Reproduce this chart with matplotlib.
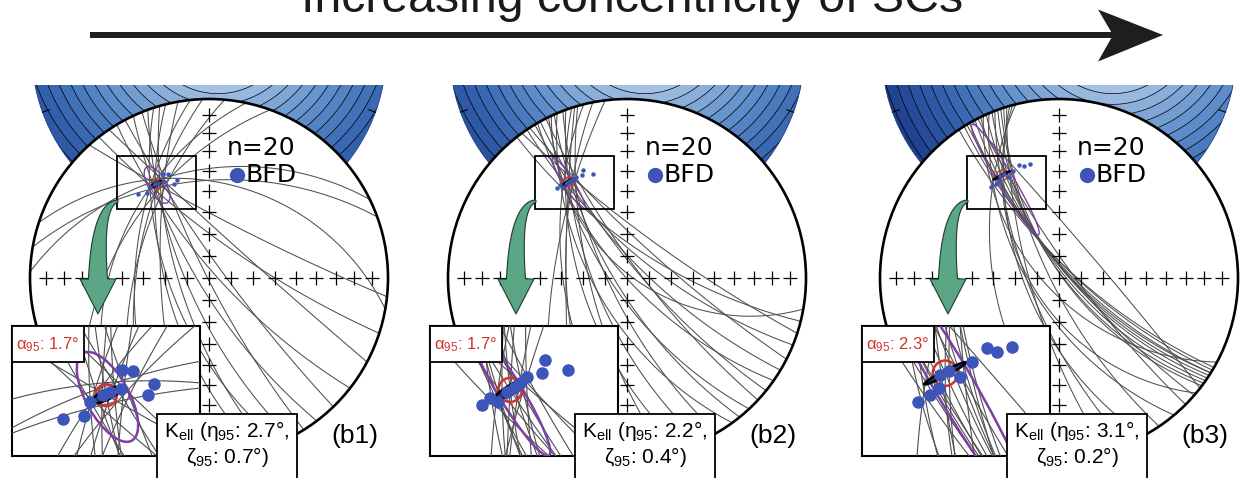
import numpy as np
import matplotlib
matplotlib.use('Agg')
import matplotlib.pyplot as plt
from matplotlib.patches import Circle, Ellipse, Rectangle, Polygon
from matplotlib.colors import LinearSegmentedColormap

plt.rcParams['font.family'] = ['Liberation Sans', 'DejaVu Sans']
plt.rcParams['mathtext.fontset'] = 'custom'
plt.rcParams['mathtext.rm'] = 'Liberation Sans'
plt.rcParams['mathtext.it'] = 'Liberation Sans:italic'

W, H = 1242, 478
R = 179                     # radius of the primitive circle, px
CY = 278                    # row of the net centres, px
centres = [209, 627, 1059]  # column of the net centres, px

title = 'Increasing concentricity of SCs'
labels = ['(b1)', '(b2)', '(b3)']
n_sites = [20, 20, 20]
alpha95 = ['1.7', '1.7', '2.3']
eta95 = ['2.7', '2.2', '3.1']
zeta95 = ['0.7', '0.4', '0.2']

# mean direction of each set, equal-area net coords (unit primitive)
mean_x = [-0.293, -0.326, -0.319]
mean_y = [0.524, 0.536, 0.574]

# remagnetisation circles: azimuth where each enters/leaves the primitive (deg)
# and how far it misses the mean direction (net units)
gc_start = [
    [272, 280, 288, 318, 322, 326, 329, 332, 335, 338, 340, 342, 344, 346, 350, 354, 358, 5, 12, 20],
    [322, 324, 326, 327, 329, 330, 331, 333, 334, 336, 337, 339, 340, 342, 344, 346, 349, 343, 353, 335],
    [326, 328, 330, 332, 334, 336, 338, 340, 342, 329, 333, 337, 341, 344, 339, 343, 346, 335, 331, 345],
]
gc_end = [
    [64, 70, 100, 96, 108, 118, 128, 136, 143, 148, 153, 157, 161, 165, 185, 192, 198, 204, 212, 225],
    [104, 108, 112, 117, 121, 125, 129, 133, 137, 141, 144, 150, 156, 162, 168, 176, 186, 197, 205, 100],
    [120, 121, 122, 122, 123, 124, 125, 126, 127, 131, 135, 140, 146, 152, 158, 165, 172, 118, 128, 130],
]
gc_miss = [
    [0.02, -0.02, 0.03, 0.0, -0.03, 0.04, -0.04, 0.03, -0.02, 0.05, 0.0, -0.04, 0.02, -0.01, 0.04, -0.03, 0.01, 0.05, -0.02, 0.03],
    [-0.05, 0.03, -0.02, 0.04, 0.0, -0.04, 0.02, 0.05, -0.03, 0.01, -0.05, 0.03, 0.0, -0.02, 0.04, -0.03, 0.02, 0.0, 0.03, -0.04],
    [-0.07, -0.05, -0.035, -0.02, 0.0, 0.02, 0.035, 0.05, 0.07, -0.03, 0.03, -0.06, 0.06, 0.01, -0.01, 0.045, -0.045, -0.08, 0.08, 0.0],
]

# best-fit directions (net coords)
bfd_x = [
    [-0.394, -0.344, -0.331, -0.257, -0.231, -0.259, -0.181, -0.194, -0.300, -0.284],
    [-0.393, -0.373, -0.354, -0.287, -0.252, -0.244, -0.190, -0.303, -0.318, -0.334],
    [-0.382, -0.354, -0.333, -0.257, -0.221, -0.198, -0.163, -0.284, -0.310, -0.330],
]
bfd_y = [
    [0.470, 0.476, 0.509, 0.581, 0.580, 0.538, 0.549, 0.524, 0.524, 0.531],
    [0.502, 0.517, 0.509, 0.566, 0.574, 0.604, 0.581, 0.552, 0.540, 0.532],
    [0.509, 0.524, 0.540, 0.600, 0.631, 0.623, 0.635, 0.566, 0.579, 0.570],
]

# confidence regions (net units, degrees)
ell_x = [-0.290, -0.325, -0.300]
ell_y = [0.520, 0.530, 0.550]
ell_len = [0.23, 0.34, 0.72]
ell_wid = [0.10, 0.056, 0.09]
ell_ang = [-60, -58, -59]
kent_len = [0.075, 0.085, 0.11]
kent_wid = [0.022, 0.02, 0.012]
kent_ang = [25, 30, 27]
a95_diam = [0.05, 0.055, 0.058]

# light spot of the density shading above each net
light_x = [0.05, 0.10, 0.30]
light_y = [1.45, 1.45, 1.45]

box_x = (-0.514, -0.073)
box_y = (0.385, 0.682)

GREY = '#4f4f4f'
PURPLE = '#7d3fa6'
RED = '#d2322d'
BLUE = '#3d55b8'
GREEN = '#5ba684'

cmap = LinearSegmentedColormap.from_list(
    'dens', ['#dde8f5', '#a7c3e4', '#6493cc', '#3563b0', '#1d3d8a'])


def arc3(p0, pm, p2, n=300):
    (x1, y1), (x2, y2), (x3, y3) = p0, pm, p2
    d = 2 * (x1 * (y2 - y3) + x2 * (y3 - y1) + x3 * (y1 - y2))
    if abs(d) < 1e-6:
        return np.array([x1, x2, x3]), np.array([y1, y2, y3])
    s1, s2, s3 = x1**2 + y1**2, x2**2 + y2**2, x3**2 + y3**2
    ux = (s1 * (y2 - y3) + s2 * (y3 - y1) + s3 * (y1 - y2)) / d
    uy = (s1 * (x3 - x2) + s2 * (x1 - x3) + s3 * (x2 - x1)) / d
    r = np.hypot(x1 - ux, y1 - uy)
    t0 = np.arctan2(y1 - uy, x1 - ux)
    tm = np.arctan2(y2 - uy, x2 - ux)
    t2 = np.arctan2(y3 - uy, x3 - ux)
    ccw = lambda a, b: (b - a) % (2 * np.pi)
    if ccw(t0, tm) < ccw(t0, t2):
        t = t0 + np.linspace(0, ccw(t0, t2), n)
    else:
        t = t0 - np.linspace(0, ccw(t2, t0), n)
    return ux + r * np.cos(t), uy + r * np.sin(t)


def circles(i):
    out = []
    mx, my = mean_x[i], mean_y[i]
    for a, b, m in zip(gc_start[i], gc_end[i], gc_miss[i]):
        p0 = np.array([np.sin(np.radians(a)), np.cos(np.radians(a))])
        p2 = np.array([np.sin(np.radians(b)), np.cos(np.radians(b))])
        ch = (p2 - p0) / np.hypot(*(p2 - p0))
        nrm = np.array([-ch[1], ch[0]])
        out.append(arc3(p0, (mx + m * nrm[0], my + m * nrm[1]), p2))
    return out


def draw_regions(ax, i, lw):
    ax.add_patch(Ellipse((ell_x[i], ell_y[i]), ell_len[i], ell_wid[i], angle=ell_ang[i],
                         fill=False, ec=PURPLE, lw=lw, zorder=6))
    ax.add_patch(Circle((mean_x[i], mean_y[i]), a95_diam[i] / 2,
                        fill=False, ec=RED, lw=lw, zorder=7))
    ax.add_patch(Ellipse((mean_x[i], mean_y[i]), kent_len[i], kent_wid[i], angle=kent_ang[i],
                         fc='#24357f', ec='black', lw=lw, zorder=8))


fig = plt.figure(figsize=(W / 100, H / 100), dpi=100)
ov = fig.add_axes([0, 0, 1, 1], zorder=20)
ov.set_xlim(0, W)
ov.set_ylim(H, 0)
ov.axis('off')

# title + big arrow
tt = ov.text(632, 12, title, ha='center', va='baseline', fontsize=30,
             family=['Liberation Sans Narrow', 'Liberation Sans'], color='#1a1a1a')
fig.canvas.draw()
wpx = tt.get_window_extent(fig.canvas.get_renderer()).width
tt.set_fontsize(30 * 662 / wpx)
ov.add_patch(Rectangle((90, 31.8), 1024, 6.6, fc='#1e1e1e', ec='none'))
ov.add_patch(Polygon([(1098, 9.5), (1163, 35), (1098, 61.5), (1113, 35)],
                     closed=True, fc='#1e1e1e', ec='none'))

y_top = (CY - 85) / R
y_bot = -(H - CY) / R
xr = 1.17
levels = np.arange(0, 1.8, 0.06)

for i, cx in enumerate(centres):
    ax = fig.add_axes([(cx - xr * R) / W, 0, 2 * xr * R / W, (H - 85) / H])
    ax.set_xlim(-xr, xr)
    ax.set_ylim(y_bot, y_top)
    ax.axis('off')

    # density shading above the net
    disc = Circle((0, 1.265), 0.99, transform=ax.transData)
    gx, gy = np.meshgrid(np.linspace(-1.05, 1.05, 300), np.linspace(0.2, 1.1, 160))
    field = np.hypot(gx - light_x[i], gy - light_y[i])
    cf = ax.contourf(gx, gy, field, levels=levels, cmap=cmap,
                     vmin=0.05, vmax=1.35, zorder=0)
    cl = ax.contour(gx, gy, field, levels=levels, colors='black',
                    linewidths=0.5, zorder=0.5)
    cf.set_clip_path(disc)
    cl.set_clip_path(disc)
    ax.add_patch(Circle((0, 1.265), 0.99, fill=False, ec='#1d3d8a', lw=0.6, zorder=0.6))
    for az in (110, 250):
        s, c = np.sin(np.radians(az)), np.cos(np.radians(az))
        ax.plot([0.99 * s, 0.95 * s], [1.265 + 0.99 * c, 1.265 + 0.95 * c],
                color='black', lw=0.8, zorder=0.7)

    # primitive
    ax.add_patch(Circle((0, 0), 1, fc='white', ec='none', zorder=1))
    clip = Circle((0, 0), 1, transform=ax.transData)
    arcs = circles(i)
    for gx_, gy_ in arcs:
        ln, = ax.plot(gx_, gy_, color=GREY, lw=0.75, zorder=3)
        ln.set_clip_path(clip)
    ax.add_patch(Circle((0, 0), 1, fill=False, ec='black', lw=1.9, zorder=4))

    rr = np.sqrt(2) * np.sin(np.radians(90 - np.arange(10, 90, 10)) / 2)
    tx = np.concatenate([rr, -rr, np.zeros(len(rr) * 2 + 1)])
    ty = np.concatenate([np.zeros(len(rr) * 2), rr, -rr, [0]])
    ax.plot(tx, ty, '+', color='black', ms=10, mew=0.9, zorder=4)

    draw_regions(ax, i, 1.0)
    ax.plot(bfd_x[i], bfd_y[i], 'o', color=BLUE, ms=2.2, zorder=9)
    ax.add_patch(Rectangle((box_x[0], box_y[0]), box_x[1] - box_x[0], box_y[1] - box_y[0],
                           fill=False, ec='black', lw=1.3, zorder=10))

    ax.text(0.10, 0.687, 'n=%d' % n_sites[i], fontsize=18, family='DejaVu Sans',
            ha='left', va='baseline', zorder=10)
    ax.plot([0.158], [0.577], 'o', color=BLUE, ms=10, zorder=10)
    ax.text(0.205, 0.536, 'BFD', fontsize=18, family='DejaVu Sans',
            ha='left', va='baseline', zorder=10)

    # enlarged view
    ins = fig.add_axes([(cx - 197) / W, 1 - (326 + 130) / H, 188 / W, 130 / H], zorder=10)
    ins.set_xlim(*box_x)
    ins.set_ylim(*box_y)
    ins.set_xticks([])
    ins.set_yticks([])
    for sp in ins.spines.values():
        sp.set_linewidth(1.5)
    for gx_, gy_ in arcs:
        ins.plot(gx_, gy_, color=GREY, lw=0.8, zorder=3)
    draw_regions(ins, i, 1.8)
    ins.plot(bfd_x[i], bfd_y[i], 'o', color=BLUE, ms=8, zorder=9)

    # overlay boxes, labels and green arrow
    ov.add_patch(Rectangle((cx - 197, 326), 72, 36, fc='white', ec='black', lw=1.3))
    ov.text(cx - 161, 345, 'α$_{95}$: %s°' % alpha95[i], color=RED, fontsize=12,
            ha='center', va='center')
    ov.add_patch(Rectangle((cx - 52, 414), 140, 70, fc='white', ec='black', lw=1.3))
    ov.text(cx + 18, 437, 'K$_{\\rm ell}$ (η$_{95}$: %s°,' % eta95[i], fontsize=15,
            ha='center', va='baseline')
    ov.text(cx + 18, 463, 'ζ$_{95}$: %s°)' % zeta95[i], fontsize=15,
            ha='center', va='baseline')
    ov.text(cx + 122, 443, labels[i], fontsize=19, ha='left', va='baseline')

    t = np.linspace(0, 1, 40)[:, None]
    p0 = np.array([cx - 91, 201.0])
    pc = np.array([cx - 112, 205.0])
    p1 = np.array([cx - 111, 279.0])
    pts = (1 - t) ** 2 * p0 + 2 * t * (1 - t) * pc + t ** 2 * p1
    der = 2 * (1 - t) * (pc - p0) + 2 * t * (p1 - pc)
    der = der / np.hypot(der[:, 0], der[:, 1])[:, None]
    nv = np.column_stack([-der[:, 1], der[:, 0]])
    half = (1.0 + 8.5 * t)
    left = pts + nv * half
    right = pts - nv * half
    head = [(cx - 129, 279), (cx - 111, 314), (cx - 93, 279)]
    lo_first = left[-1, 0] < right[-1, 0]
    poly = np.vstack([left, [head[0] if lo_first else head[2]], [head[1]],
                      [head[2] if lo_first else head[0]], right[::-1]])
    ov.add_patch(Polygon(poly, closed=True, fc=GREEN, ec='#1e3d2e', lw=0.8, zorder=5))

fig.savefig('out.png', dpi=100)
